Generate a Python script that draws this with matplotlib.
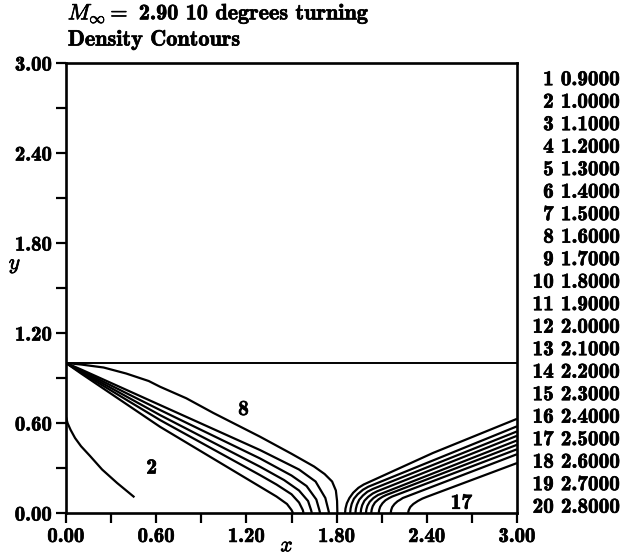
import os
import matplotlib
matplotlib.use('Agg')
import matplotlib.pyplot as plt
from matplotlib import font_manager
import matplotlib.patheffects as pe

# Computer Modern bold ships with matplotlib
font_manager.fontManager.addfont(os.path.join(matplotlib.get_data_path(), 'fonts', 'ttf', 'cmb10.ttf'))
plt.rcParams['font.family'] = 'cmb10'
plt.rcParams['mathtext.fontset'] = 'cm'
plt.rcParams['axes.unicode_minus'] = False

# Contour levels listed on the right
level_ids = list(range(1, 21))
level_values = [0.9, 1.0, 1.1, 1.2, 1.3, 1.4, 1.5, 1.6, 1.7, 1.8,
                1.9, 2.0, 2.1, 2.2, 2.3, 2.4, 2.5, 2.6, 2.7, 2.8]

ticks = [0.0, 0.6, 1.2, 1.8, 2.4, 3.0]
tick_labels = ['0.00', '0.60', '1.20', '1.80', '2.40', '3.00']

# Contour lines: level number -> (x, y)
contours = {
    2: ([0.0, 0.01, 0.03, 0.06, 0.10, 0.16, 0.24, 0.34, 0.455],
        [0.64, 0.60, 0.555, 0.50, 0.445, 0.38, 0.29, 0.20, 0.105]),
    3: ([0.0, 0.1, 0.625, 1.29, 1.4, 1.47, 1.5, 1.51],
        [1.0, 0.93, 0.575, 0.176, 0.11, 0.06, 0.02, 0.0]),
    4: ([0.0, 0.1, 0.625, 1.29, 1.4, 1.5, 1.55, 1.575, 1.58],
        [1.0, 0.937, 0.62, 0.253, 0.19, 0.125, 0.07, 0.02, 0.0]),
    5: ([0.0, 0.1, 0.625, 1.29, 1.45, 1.55, 1.61, 1.63, 1.635],
        [1.0, 0.944, 0.653, 0.309, 0.22, 0.15, 0.08, 0.02, 0.0]),
    6: ([0.0, 0.1, 0.625, 1.29, 1.5, 1.6, 1.665, 1.685, 1.69],
        [1.0, 0.95, 0.687, 0.364, 0.25, 0.18, 0.09, 0.02, 0.0]),
    7: ([0.0, 0.1, 0.625, 1.29, 1.55, 1.66, 1.725, 1.745, 1.75],
        [1.0, 0.957, 0.72, 0.42, 0.29, 0.21, 0.10, 0.02, 0.0]),
    8: ([0.0, 0.1, 0.25, 0.4, 0.55, 0.625, 0.8, 0.98, 1.29, 1.5, 1.65, 1.72, 1.77, 1.795, 1.803, 1.805],
        [1.0, 0.99, 0.97, 0.93, 0.88, 0.842, 0.765, 0.667, 0.509, 0.395, 0.31, 0.26, 0.21, 0.15, 0.08, 0.0]),
    9: ([1.856, 1.859, 1.868, 1.885, 1.91, 1.945, 1.98, 2.44, 3.0],
        [0.0, 0.03, 0.065, 0.10, 0.135, 0.168, 0.19, 0.40, 0.628]),
    10: ([1.89, 1.893, 1.90, 1.915, 1.94, 1.975, 2.01, 3.0],
         [0.0, 0.03, 0.06, 0.095, 0.125, 0.155, 0.175, 0.578]),
    11: ([1.925, 1.928, 1.935, 1.95, 1.975, 2.005, 2.04, 3.0],
         [0.0, 0.028, 0.055, 0.088, 0.117, 0.142, 0.16, 0.544]),
    12: ([1.96, 1.963, 1.97, 1.985, 2.01, 2.04, 2.07, 3.0],
         [0.0, 0.026, 0.052, 0.082, 0.108, 0.13, 0.145, 0.515]),
    13: ([1.995, 1.998, 2.005, 2.02, 2.045, 2.075, 2.1, 3.0],
         [0.0, 0.024, 0.048, 0.075, 0.1, 0.12, 0.13, 0.484]),
    14: ([2.03, 2.033, 2.04, 2.055, 2.08, 2.105, 2.13, 3.0],
         [0.0, 0.022, 0.045, 0.07, 0.092, 0.108, 0.12, 0.455]),
    15: ([2.08, 2.083, 2.09, 2.105, 2.125, 2.15, 2.17, 3.0],
         [0.0, 0.02, 0.042, 0.065, 0.085, 0.1, 0.11, 0.425]),
    16: ([2.16, 2.163, 2.17, 2.185, 2.205, 2.225, 2.24, 3.0],
         [0.0, 0.02, 0.04, 0.06, 0.078, 0.09, 0.10, 0.392]),
    17: ([2.275, 2.28, 2.29, 2.31, 2.34, 2.37, 2.40, 3.0],
         [0.0, 0.02, 0.04, 0.06, 0.08, 0.096, 0.108, 0.333]),
}

# where the level numbers are written inside the plot
line_labels = {2: (0.57, 0.30), 8: (1.18, 0.69), 17: (2.63, 0.065)}

# domain boundary (top wall of the channel)
wall_x = [0.0, 3.0]
wall_y = [1.0, 1.0]

bold = [pe.withStroke(linewidth=0.5, foreground='black')]

fig = plt.figure(figsize=(6.27, 5.6), dpi=100)
ax = fig.add_axes([0.1053, 0.0839, 0.7193, 0.8036])

ax.plot(wall_x, wall_y, color='black', lw=1.4)
for lev, (xs, ys) in contours.items():
    ax.plot(xs, ys, color='black', lw=1.6, solid_capstyle='butt')
for lev, (lx, ly) in line_labels.items():
    ax.text(lx, ly, str(lev), fontsize=15.5, ha='center', va='center', path_effects=bold)

ax.set_xlim(0, 3)
ax.set_ylim(0, 3)
ax.set_xticks(ticks)
ax.set_xticklabels(tick_labels)
ax.set_yticks(ticks)
ax.set_yticklabels(tick_labels)
ax.set_xticks([0.3, 0.9, 1.5, 2.1, 2.7], minor=True)
ax.set_yticks([0.3, 0.9, 1.5, 2.1, 2.7], minor=True)
ax.tick_params(which='both', direction='out', length=7, width=1.6, labelsize=15, pad=3)
for lab in ax.get_xticklabels() + ax.get_yticklabels():
    lab.set_path_effects(bold)
for s in ax.spines.values():
    s.set_linewidth(1.9)

ax.text(0.49, -0.073, r'$x$', transform=ax.transAxes, fontsize=15.5, ha='center', va='center',
        path_effects=bold)
ax.text(-0.113, 0.55, r'$y$', transform=ax.transAxes, fontsize=15.5, ha='center', va='center',
        path_effects=bold)

ax.text(0.004, 1.109, r'$M_\infty =$ 2.90 10 degrees turning', transform=ax.transAxes,
        fontsize=16, ha='left', va='center', path_effects=bold)
ax.text(0.004, 1.051, 'Density Contours', transform=ax.transAxes,
        fontsize=16, ha='left', va='center', path_effects=bold)

# level legend on the right
for i, (n, v) in enumerate(zip(level_ids, level_values)):
    ax.text(1.228, 0.963 - 0.05 * i, f'{n} {v:.4f}', transform=ax.transAxes,
            fontsize=15.3, ha='right', va='center', path_effects=bold)

fig.savefig('out.png', dpi=100)
